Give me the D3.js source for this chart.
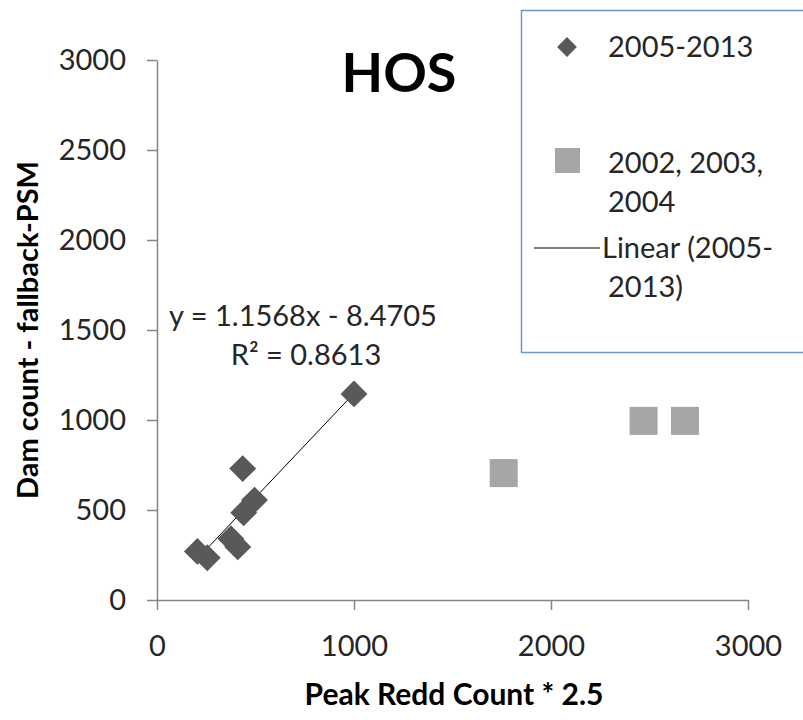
<!DOCTYPE html>
<html>
<head>
<meta charset="utf-8">
<script src="https://cdn.jsdelivr.net/npm/d3@7"></script>
<style>
  body { margin: 0; background: #fff; }
  svg { display: block; font-family: Lato, "Open Sans", sans-serif; }
</style>
</head>
<body>
<svg id="chart"></svg>
<script>
// 2005-2013 series (Peak Redd Count * 2.5, Dam count)
const reddRecent = [205, 255, 375, 410, 440, 495, 435, 1000];
const damRecent = [270, 235, 340, 295, 485, 555, 730, 1145];
// 2002, 2003, 2004 series
const reddEarly = [1760, 2470, 2680];
const damEarly = [705, 995, 995];
// trendline for 2005-2013
const slope = 1.1568;
const intercept = -8.4705;
const rSquared = 0.8613;
const xTicks = [0, 1000, 2000, 3000];
const yTicks = [0, 500, 1000, 1500, 2000, 2500, 3000];

const width = 803;
const height = 720;
const margin = { top: 60, right: 55, bottom: 120, left: 157 };

const svg = d3.select('svg#chart')
    .attr('width', width)
    .attr('height', height);

const x = d3.scaleLinear()
    .domain([0, 3000])
    .range([margin.left, width - margin.right]);

const y = d3.scaleLinear()
    .domain([0, 3000])
    .range([height - margin.bottom, margin.top]);

const axisColor = '#868686';
const textColor = '#262626';

// X axis
const xAxis = svg.append('g')
    .attr('transform', `translate(0,${y(0)})`)
    .call(d3.axisBottom(x).tickValues(xTicks).tickFormat(d3.format('d'))
        .tickSize(10).tickSizeOuter(0).tickPadding(25));

// Y axis
const yAxis = svg.append('g')
    .attr('transform', `translate(${x(0)},0)`)
    .call(d3.axisLeft(y).tickValues(yTicks).tickFormat(d3.format('d'))
        .tickSize(10).tickSizeOuter(0).tickPadding(21));

[xAxis, yAxis].forEach(g => {
    g.select('.domain').attr('stroke', axisColor).attr('stroke-width', 1.5);
    g.selectAll('.tick line').attr('stroke', axisColor).attr('stroke-width', 1.5);
    g.selectAll('.tick text')
        .attr('fill', textColor)
        .style('font-size', '29px')
        .style('font-family', 'Lato, sans-serif');
});

// Trendline over the 2005-2013 range
const [xMin, xMax] = d3.extent(reddRecent);
svg.append('line')
    .attr('x1', x(xMin))
    .attr('y1', y(slope * xMin + intercept))
    .attr('x2', x(xMax))
    .attr('y2', y(slope * xMax + intercept))
    .attr('stroke', '#000')
    .attr('stroke-width', 1);

// Squares for 2002-2004
const sq = 28;
svg.selectAll('.early')
    .data(reddEarly)
    .join('rect')
    .classed('early', true)
    .attr('x', (d, i) => x(d) - sq / 2)
    .attr('y', (d, i) => y(damEarly[i]) - sq / 2)
    .attr('width', sq)
    .attr('height', sq)
    .attr('fill', '#a6a6a6');

// Diamonds for 2005-2013
const diamond = d3.symbol().type(d3.symbolSquare).size(19 * 19);
svg.selectAll('.recent')
    .data(reddRecent)
    .join('path')
    .classed('recent', true)
    .attr('d', diamond)
    .attr('transform', (d, i) => `translate(${x(d)},${y(damRecent[i])}) rotate(45)`)
    .attr('fill', '#595959');

// Trendline equation
const eq = svg.append('g')
    .attr('fill', textColor)
    .style('font-size', '29px')
    .attr('text-anchor', 'middle');
eq.append('text')
    .attr('x', 303)
    .attr('y', 326)
    .text(`y = ${slope}x - ${Math.abs(intercept)}`);
eq.append('text')
    .attr('x', 306)
    .attr('y', 365)
    .text(`R² = ${rSquared}`);

// Title
svg.append('text')
    .attr('x', 399)
    .attr('y', 92)
    .attr('text-anchor', 'middle')
    .style('font-size', '54px')
    .style('font-weight', 'bold')
    .attr('fill', '#000')
    .text('HOS');

// Axis titles
svg.append('text')
    .attr('x', 454)
    .attr('y', 705)
    .attr('text-anchor', 'middle')
    .style('font-size', '30px')
    .style('font-weight', 'bold')
    .attr('fill', '#000')
    .text('Peak Redd Count * 2.5');

svg.append('text')
    .attr('transform', `translate(38,${y(1500)}) rotate(-90)`)
    .attr('text-anchor', 'middle')
    .style('font-size', '29px')
    .style('font-weight', 'bold')
    .attr('fill', '#000')
    .text('Dam count - fallback-PSM');

// Legend
const legend = svg.append('g');
legend.append('rect')
    .attr('x', 521.5)
    .attr('y', 10.5)
    .attr('width', 300)
    .attr('height', 342)
    .attr('fill', '#fff')
    .attr('stroke', '#6f94cf')
    .attr('stroke-width', 1.5);

legend.append('path')
    .attr('d', d3.symbol().type(d3.symbolSquare).size(14 * 14))
    .attr('transform', 'translate(567,47) rotate(45)')
    .attr('fill', '#595959');
legend.append('rect')
    .attr('x', 555)
    .attr('y', 148)
    .attr('width', 25)
    .attr('height', 25)
    .attr('fill', '#a6a6a6');
legend.append('line')
    .attr('x1', 534)
    .attr('x2', 600)
    .attr('y1', 248)
    .attr('y2', 248)
    .attr('stroke', '#000')
    .attr('stroke-width', 1);

const legendLines = [
    ['2005-2013', 57],
    ['2002, 2003,', 173],
    ['2004', 212],
    ['Linear (2005-', 258],
    ['2013)', 297]
];
legend.selectAll('.ltext')
    .data(legendLines)
    .join('text')
    .classed('ltext', true)
    .attr('x', (d, i) => i === 3 ? 602 : 608)
    .attr('y', d => d[1])
    .style('font-size', '29px')
    .attr('fill', textColor)
    .text(d => d[0]);
</script>
</body>
</html>
